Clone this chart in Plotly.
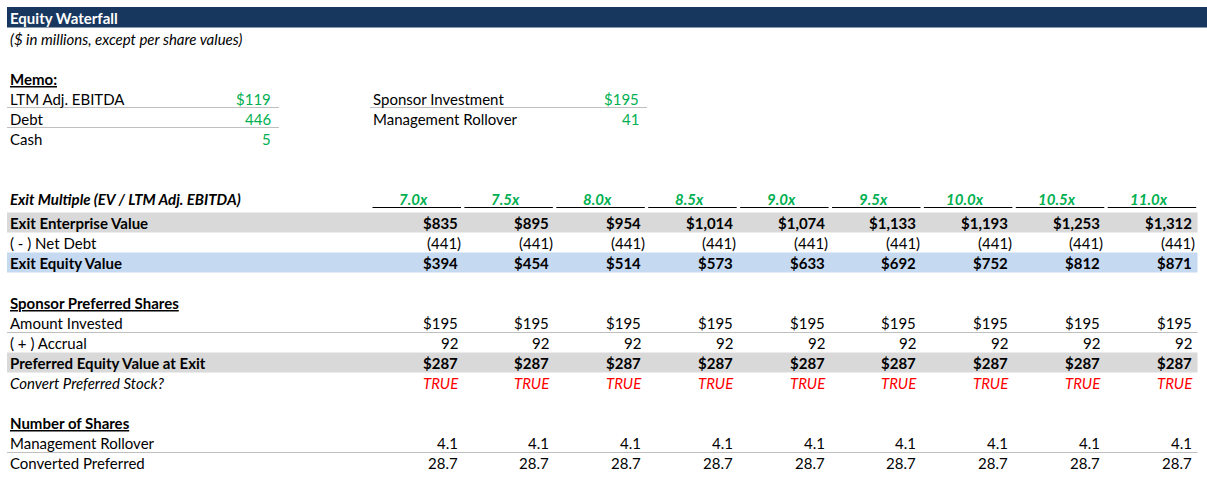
import plotly.graph_objects as go

# ---- data ----
title = "Equity Waterfall"
subtitle = "($ in millions, except per share values)"
memo_left_labels = ["LTM Adj. EBITDA", "Debt", "Cash"]
memo_left_values = [119, 446, 5]
memo_right_labels = ["Sponsor Investment", "Management Rollover"]
memo_right_values = [195, 41]

multiples = [7.0, 7.5, 8.0, 8.5, 9.0, 9.5, 10.0, 10.5, 11.0]
exit_ev = [835, 895, 954, 1014, 1074, 1133, 1193, 1253, 1312]
net_debt = [441, 441, 441, 441, 441, 441, 441, 441, 441]
exit_equity = [394, 454, 514, 573, 633, 692, 752, 812, 871]
amount_invested = [195, 195, 195, 195, 195, 195, 195, 195, 195]
accrual = [92, 92, 92, 92, 92, 92, 92, 92, 92]
pref_value = [287, 287, 287, 287, 287, 287, 287, 287, 287]
convert_pref = [True, True, True, True, True, True, True, True, True]
mgmt_shares = [4.1, 4.1, 4.1, 4.1, 4.1, 4.1, 4.1, 4.1, 4.1]
converted_shares = [28.7, 28.7, 28.7, 28.7, 28.7, 28.7, 28.7, 28.7, 28.7]

# ---- styles ----
W, H = 1207, 479
FONT = "Lato"
FS = 15
BLACK = "#000000"
GREEN = "#00B050"
RED = "#FF0000"
NAVY = "#17375E"
GREY = "#D9D9D9"
BLUE = "#C5D9F1"
LINE = "#BFBFBF"

fig = go.Figure()
shapes = []
ann = []


def rect(x0, y0, x1, y1, color):
    shapes.append(dict(type="rect", xref="x", yref="y", x0=x0, x1=x1, y0=y0, y1=y1,
                       fillcolor=color, line=dict(width=0), layer="below"))


def hline(x0, x1, y, color=LINE, w=1):
    shapes.append(dict(type="line", xref="x", yref="y", x0=x0, x1=x1, y0=y, y1=y,
                       line=dict(color=color, width=w)))


def text(x, y, s, anchor="left", color=BLACK, bold=False, italic=False, underline=False, size=FS):
    f = dict(family=FONT, size=size, color=color,
             weight="bold" if bold else "normal",
             style="italic" if italic else "normal")
    if underline:
        f["lineposition"] = "under"
    ann.append(dict(x=x, y=y, xref="x", yref="y", text=s, showarrow=False,
                    xanchor=anchor, yanchor="middle", font=f,
                    borderpad=0, borderwidth=0))


def money(v, dollar):
    s = f"{abs(v):,.0f}"
    return ("$" if dollar else "") + s


# title bar
rect(7, 7, W, 27.5, NAVY)
text(10, 17.5, title, color="white", bold=True)
text(10, 38.5, subtitle, italic=True)

# memo
text(10, 79, "Memo:", bold=True, underline=True)
LX, LR = 10, 271
for i, (lab, val) in enumerate(zip(memo_left_labels, memo_left_values)):
    y = 98.5 + 20 * i
    text(LX, y, lab)
    text(LR, y, money(val, i == 0), anchor="right", color=GREEN)
hline(7, 279, 107.5)
hline(7, 279, 127.5)
for i, (lab, val) in enumerate(zip(memo_right_labels, memo_right_values)):
    y = 98.5 + 20 * i
    text(373, y, lab)
    text(638.5, y, money(val, i == 0), anchor="right", color=GREEN)
hline(370, 647, 107.5)

# columns
def vx(i):
    return 457.5 + 91.75 * i

# exit multiple row
text(10, 198.5, "Exit Multiple (EV / LTM Adj. EBITDA)", bold=True, italic=True)
for i, m in enumerate(multiples):
    text(413.5 + 91.9 * i, 198.5, f"{m:.1f}x", anchor="center", color=GREEN, bold=True, italic=True)
    x0 = 372.5 + 91.9 * i
    hline(x0, x0 + 88.5, 207.5, color=BLACK, w=1)

# bands
rect(7, 212.5, 1197.5, 232.5, GREY)
rect(7, 252.5, 1197.5, 272.5, BLUE)
rect(7, 352.5, 1197.5, 372.5, GREY)

text(10, 222.5, "Exit Enterprise Value", bold=True)
text(10, 242.5, "( - ) Net Debt")
text(10, 262.5, "Exit Equity Value", bold=True)
for i in range(len(multiples)):
    text(vx(i), 222.5, money(exit_ev[i], True), anchor="right", bold=True)
    text(vx(i) + 3.5, 242.5, f"({money(net_debt[i], False)})", anchor="right")
    text(vx(i), 262.5, money(exit_equity[i], True), anchor="right", bold=True)

text(10, 302.5, "Sponsor Preferred Shares", bold=True, underline=True)
text(10, 322.5, "Amount Invested")
text(10, 342.5, "( + ) Accrual")
text(10, 362.5, "Preferred Equity Value at Exit", bold=True)
text(10, 382.5, "Convert Preferred Stock?", italic=True)
hline(7, 1197.5, 332.5)
for i in range(len(multiples)):
    text(vx(i), 322.5, money(amount_invested[i], True), anchor="right")
    text(vx(i), 342.5, money(accrual[i], False), anchor="right")
    text(vx(i), 362.5, money(pref_value[i], True), anchor="right", bold=True)
    text(vx(i) + 1, 382.5, "TRUE" if convert_pref[i] else "FALSE", anchor="right", color=RED, italic=True)

text(10, 422.5, "Number of Shares", bold=True, underline=True)
text(10, 442.5, "Management Rollover")
text(10, 462.5, "Converted Preferred")
hline(7, 1197.5, 452.5)
for i in range(len(multiples)):
    text(vx(i), 442.5, f"{mgmt_shares[i]:.1f}", anchor="right")
    text(vx(i), 462.5, f"{converted_shares[i]:.1f}", anchor="right")

fig.update_layout(
    width=W, height=H,
    margin=dict(l=0, r=0, t=0, b=0),
    paper_bgcolor="white", plot_bgcolor="white",
    xaxis=dict(range=[0, W], visible=False, fixedrange=True),
    yaxis=dict(range=[H, 0], visible=False, fixedrange=True),
    shapes=shapes, annotations=ann, showlegend=False,
)
fig.write_html("out.html", config={"displayModeBar": False},
               post_script="document.body.style.margin='0';document.body.style.overflow='hidden';")
